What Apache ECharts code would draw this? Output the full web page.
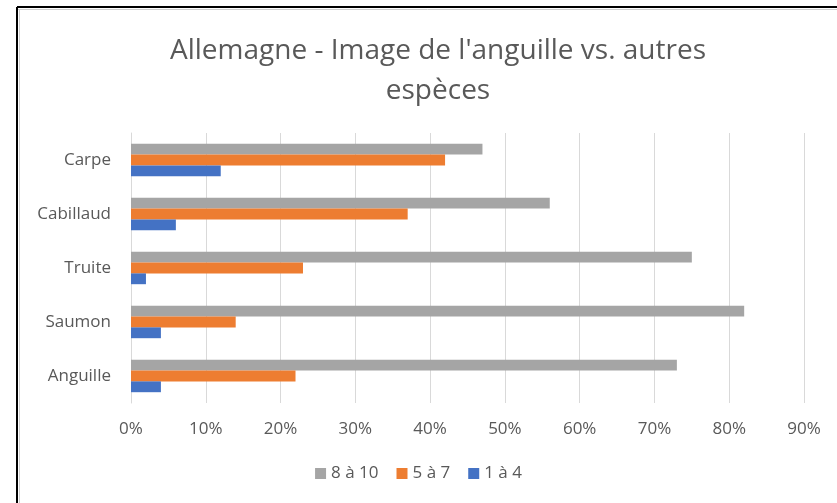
<!DOCTYPE html>
<html>
<head>
<meta charset="utf-8">
<script src="https://cdn.jsdelivr.net/npm/echarts@6/dist/echarts.min.js"></script>
<style>
  html, body { margin: 0; padding: 0; background: #fff; }
  #chart { width: 837px; height: 503px; }
</style>
</head>
<body>
<div id="chart"></div>
<script>
// Species, bottom to top on the category axis
const categories = ['Anguille', 'Saumon', 'Truite', 'Cabillaud', 'Carpe'];
// Share of ratings (%) per score band
const score8to10 = [73, 82, 75, 56, 47];
const score5to7 = [22, 14, 23, 37, 42];
const score1to4 = [4, 4, 2, 6, 12];
const seriesNames = ['8 à 10', '5 à 7', '1 à 4'];
const colors = ['#a5a5a5', '#ed7d31', '#4472c4'];

const chart = echarts.init(document.getElementById('chart'));
const font = '"Open Sans", "Liberation Sans", sans-serif';
const values = [score8to10, score5to7, score1to4];

chart.setOption({
  animation: false,
  textStyle: { fontFamily: font },
  title: {
    text: "Allemagne - Image de l'anguille vs. autres\nespèces",
    left: 433,
    textAlign: 'center',
    top: 26,
    textStyle: { fontFamily: font, fontSize: 28, fontWeight: 'normal', color: '#595959', lineHeight: 40 }
  },
  legend: {
    data: seriesNames,
    bottom: 16,
    left: 'center',
    itemWidth: 11,
    itemHeight: 11,
    itemGap: 18,
    icon: 'rect',
    textStyle: { fontFamily: font, fontSize: 17, color: '#595959' }
  },
  grid: { left: 131, right: 33, top: 133, bottom: 100, containLabel: false },
  xAxis: {
    type: 'value',
    min: 0,
    max: 90,
    interval: 10,
    axisLine: { show: false },
    axisTick: { show: false },
    splitLine: { lineStyle: { color: '#d9d9d9', width: 1 } },
    axisLabel: { formatter: '{value}%', color: '#595959', fontSize: 17, margin: 18, fontFamily: font }
  },
  yAxis: {
    type: 'category',
    data: categories,
    axisLine: { show: true, lineStyle: { color: '#d9d9d9', width: 1 } },
    axisTick: { show: false },
    axisLabel: { color: '#595959', fontSize: 17, margin: 20, fontFamily: font }
  },
  series: seriesNames.map((name, i) => ({
    name: name,
    type: 'bar',
    data: values[i],
    barGap: '0%',
    barCategoryGap: '40%',
    itemStyle: { color: colors[i] }
  })),
  graphic: [
    { type: 'line', shape: { x1: 17, y1: 7, x2: 17, y2: 503 }, style: { stroke: '#000', lineWidth: 2 } },
    { type: 'line', shape: { x1: 17, y1: 7, x2: 837, y2: 7 }, style: { stroke: '#000', lineWidth: 2 } },
    { type: 'line', shape: { x1: 19.5, y1: 9, x2: 19.5, y2: 503 }, style: { stroke: '#d0d0d0', lineWidth: 1 } },
    { type: 'line', shape: { x1: 18, y1: 9.5, x2: 837, y2: 9.5 }, style: { stroke: '#d0d0d0', lineWidth: 1 } }
  ]
});
</script>
</body>
</html>
